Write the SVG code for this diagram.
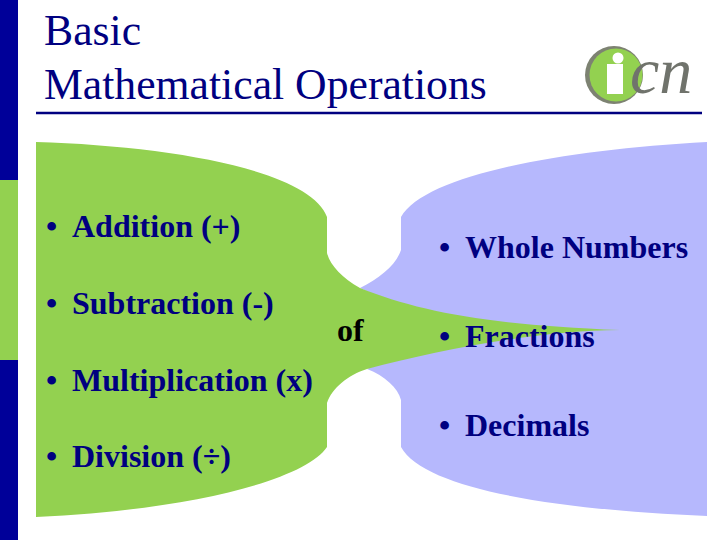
<svg xmlns="http://www.w3.org/2000/svg" width="720" height="540" viewBox="0 0 720 540">
<style>
.t{font-family:"Liberation Serif","Times New Roman",serif;fill:#000080}
.title{font-size:43.700px}
.b{font-size:32px;font-weight:bold}
</style>
<rect width="720" height="540" fill="#fff"/>
<g id="sidebar">
<rect x="0" y="0" width="18" height="180" fill="#000099"/>
<rect x="0" y="180" width="18" height="180" fill="#93d150"/>
<rect x="0" y="360" width="18" height="180" fill="#000099"/>
</g>
<g id="title-block">
<text class="t title" x="44" y="45">Basic</text>
<text class="t title" x="44" y="99">Mathematical Operations</text>
<path d="M36 113H702" stroke="#000080" stroke-width="2.5" fill="none"/>
</g>
<g id="logo">
<circle cx="614" cy="75" r="29" fill="#7d8272"/>
<circle cx="616" cy="75" r="26.500" fill="#93d150"/>
<rect x="607" y="64" width="16" height="30" fill="#fff"/>
<circle cx="618" cy="58" r="5.500" fill="#fff"/>
<text x="630" y="93" font-family="Liberation Serif, serif" font-style="italic" font-size="66" fill="#70736c">cn</text>
</g>
<g id="blue-shape">
<path fill="#b6b8fd" d="M707 142C560 150 425 175 401 217V250C396 265 380 278 360 288L450 330L367 369C385 376 398 388 401 400V447C425 490 560 510 707 516Z"/>
</g>
<g id="green-shape">
<path fill="#93d150" d="M36 142C170 146 310 170 327 217V253C330 265 342 278 360 288C420 312 490 325 620 330C540 330 440 350 367 369C348 375 332 388 327 403V447C305 480 190 510 36 517Z"/>
</g>
<g id="operations">
<text class="t b" x="46" y="237">•</text><text class="t b" x="72" y="237">Addition (+)</text>
<text class="t b" x="46" y="314">•</text><text class="t b" x="72" y="314">Subtraction (-)</text>
<text class="t b" x="46" y="391">•</text><text class="t b" x="72" y="391">Multiplication (x)</text>
<text class="t b" x="46" y="467">•</text><text class="t b" x="72" y="467">Division (÷)</text>
</g>
<g id="of"><text x="337" y="341" font-family="Liberation Serif, serif" font-size="32" font-weight="bold" fill="#000">of</text></g>
<g id="types">
<text class="t b" x="439" y="258">•</text><text class="t b" x="465" y="258">Whole Numbers</text>
<text class="t b" x="439" y="347">•</text><text class="t b" x="465" y="347">Fractions</text>
<text class="t b" x="439" y="436">•</text><text class="t b" x="465" y="436">Decimals</text>
</g>
</svg>
